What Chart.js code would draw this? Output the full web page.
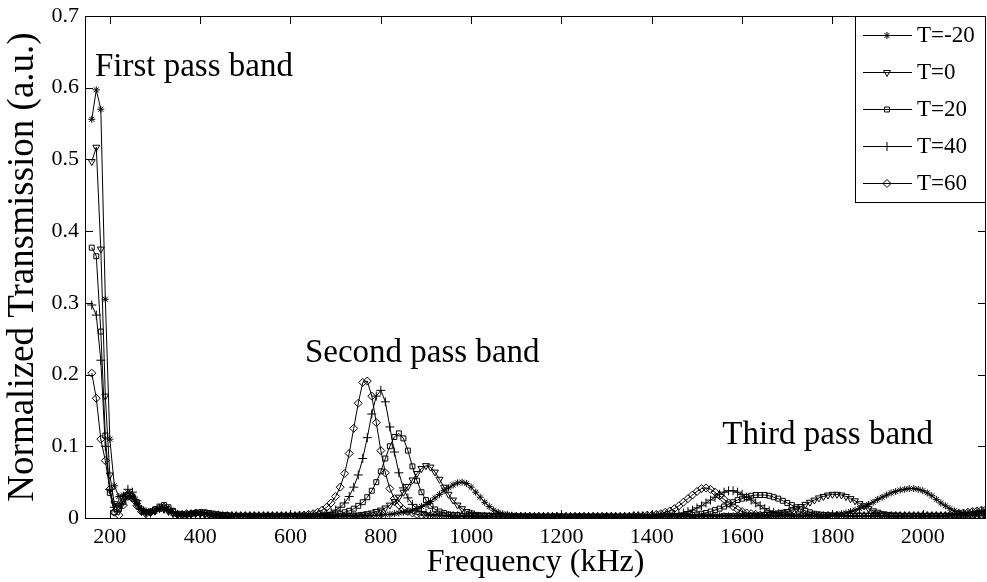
<!DOCTYPE html>
<html>
<head>
<meta charset="utf-8">
<title>Normalized Transmission</title>
<script src="https://cdn.jsdelivr.net/npm/chart.js@4.4.1/dist/chart.umd.min.js"></script>
<style>
  body { margin: 0; background: #fff; }
  canvas { display: block; }
</style>
</head>
<body>
<canvas id="myChart" width="987" height="582"></canvas>
<script>
// frequency grid in kHz, one sample every 10 kHz
var freq = [];
for (var f = 160; f <= 2140; f += 10) freq.push(f);

var seriesNames = ['T=-20', 'T=0', 'T=20', 'T=40', 'T=60'];

var tm20 = [
  .556,.597,.570,.305,.110,.045,.030,.032,.035,.030,.020,.012,.010,.008,.009,.012,.013,.010,.007,.005,
  .005,.005,.006,.007,.007,.006,.005,.004,.004,.003,.003,.003,.003,.003,.003,.002,.002,.003,.003,.003,
  .003,.003,.003,.003,.003,.003,.003,.003,.003,.003,.003,.003,.003,.003,.003,.003,.003,.003,.003,.003,
  .003,.003,.003,.004,.004,.005,.005,.006,.007,.008,.009,.011,.013,.016,.019,.023,.028,.033,.038,.042,
  .046,.049,.050,.048,.043,.036,.029,.022,.016,.011,.008,.006,.005,.004,.003,.003,.003,.003,.002,.002,
  .002,.002,.002,.003,.002,.002,.002,.002,.003,.002,.002,.002,.002,.002,.003,.002,.002,.002,.002,.002,
  .002,.002,.002,.002,.002,.002,.002,.003,.003,.003,.003,.003,.003,.003,.003,.003,.003,.003,.003,.003,
  .003,.003,.003,.003,.003,.003,.003,.003,.003,.003,.003,.003,.003,.003,.003,.003,.003,.003,.003,.003,
  .003,.003,.003,.004,.004,.005,.006,.007,.009,.011,.013,.016,.019,.022,.026,.029,.032,.035,.037,.039,
  .040,.041,.041,.040,.038,.035,.031,.026,.021,.017,.013,.010,.008,.007,.006,.006,.007,.008,.009
];
var t0 = [
  .497,.517,.375,.170,.060,.020,.015,.025,.032,.028,.018,.010,.008,.008,.010,.013,.012,.009,.006,.005,
  .004,.005,.005,.006,.006,.005,.004,.004,.003,.003,.003,.003,.002,.002,.002,.002,.002,.002,.002,.002,
  .002,.002,.002,.002,.002,.002,.002,.002,.002,.002,.002,.002,.002,.002,.003,.003,.003,.003,.004,.004,
  .005,.006,.007,.009,.011,.014,.018,.023,.029,.036,.044,.053,.062,.069,.073,.071,.064,.054,.043,.033,
  .025,.018,.013,.009,.007,.005,.004,.004,.003,.003,.003,.003,.003,.003,.002,.002,.002,.002,.002,.002,
  .002,.002,.002,.002,.002,.002,.002,.002,.002,.002,.002,.002,.002,.002,.002,.002,.002,.002,.002,.002,
  .002,.002,.002,.002,.002,.002,.002,.002,.002,.002,.002,.002,.002,.002,.002,.002,.002,.002,.002,.002,
  .003,.003,.003,.003,.003,.003,.004,.004,.004,.005,.005,.006,.007,.008,.009,.011,.013,.016,.019,.022,
  .025,.028,.030,.032,.033,.033,.032,.030,.027,.024,.020,.017,.013,.010,.008,.006,.005,.004,.004,.003,
  .003,.003,.003,.003,.003,.003,.003,.003,.003,.003,.003,.003,.003,.003,.003,.003,.003,.003,.003
];
var t20 = [
  .377,.365,.260,.115,.035,.008,.012,.022,.030,.030,.022,.012,.008,.009,.012,.016,.018,.015,.010,.006,
  .005,.005,.006,.007,.008,.008,.007,.006,.005,.004,.004,.003,.003,.003,.003,.003,.003,.003,.003,.003,
  .003,.003,.003,.003,.003,.003,.003,.003,.003,.003,.003,.003,.004,.004,.005,.006,.008,.010,.013,.017,
  .022,.029,.038,.050,.065,.083,.100,.113,.118,.111,.094,.072,.052,.036,.025,.017,.012,.009,.007,.005,
  .004,.004,.003,.003,.003,.003,.003,.003,.003,.002,.002,.002,.002,.002,.002,.002,.002,.002,.002,.002,
  .002,.002,.002,.002,.002,.002,.002,.002,.002,.002,.002,.002,.002,.002,.002,.002,.002,.002,.002,.002,
  .002,.002,.002,.002,.002,.002,.003,.003,.003,.003,.003,.003,.003,.004,.005,.006,.007,.009,.011,.013,
  .016,.019,.022,.025,.027,.029,.031,.032,.032,.032,.031,.029,.027,.024,.021,.018,.015,.012,.010,.008,
  .006,.005,.004,.004,.003,.003,.003,.003,.003,.003,.003,.003,.003,.003,.003,.003,.003,.003,.003,.003,
  .003,.003,.003,.003,.003,.003,.003,.003,.003,.003,.003,.003,.003,.003,.003,.003,.003,.003,.003
];
var t40 = [
  .297,.283,.220,.100,.040,.015,.020,.030,.040,.036,.024,.012,.007,.007,.010,.013,.014,.011,.008,.005,
  .004,.004,.005,.006,.006,.005,.005,.004,.004,.003,.003,.003,.003,.003,.003,.003,.003,.003,.003,.003,
  .003,.003,.003,.003,.003,.003,.003,.003,.003,.004,.004,.005,.006,.008,.011,.015,.021,.030,.043,.060,
  .083,.112,.145,.170,.178,.162,.127,.092,.063,.042,.028,.019,.013,.009,.007,.005,.004,.004,.003,.003,
  .003,.003,.003,.003,.002,.002,.002,.002,.002,.002,.002,.002,.002,.002,.002,.002,.002,.002,.002,.002,
  .002,.002,.002,.002,.002,.002,.002,.002,.002,.002,.002,.002,.002,.002,.002,.002,.002,.002,.002,.002,
  .003,.003,.003,.003,.003,.003,.003,.004,.004,.005,.006,.007,.009,.011,.014,.017,.021,.025,.029,.033,
  .036,.038,.038,.036,.033,.029,.025,.021,.017,.013,.010,.008,.006,.005,.004,.004,.003,.003,.003,.003,
  .003,.003,.003,.003,.003,.003,.003,.003,.003,.003,.003,.003,.003,.003,.003,.003,.003,.003,.003,.003,
  .003,.003,.003,.003,.003,.003,.003,.003,.003,.003,.003,.004,.004,.005,.006,.007,.008,.009,.010
];
var t60 = [
  .202,.167,.110,.080,.040,.008,.004,.018,.030,.027,.017,.009,.006,.008,.011,.014,.015,.012,.008,.005,
  .005,.006,.006,.007,.007,.006,.005,.004,.004,.003,.003,.003,.003,.003,.003,.003,.003,.003,.003,.003,
  .003,.003,.003,.003,.003,.003,.004,.004,.005,.006,.008,.011,.015,.021,.030,.043,.062,.090,.125,.160,
  .189,.191,.170,.133,.094,.063,.041,.027,.018,.012,.009,.007,.005,.004,.004,.003,.003,.003,.003,.003,
  .003,.003,.002,.002,.002,.002,.002,.002,.002,.002,.002,.002,.002,.002,.002,.002,.002,.002,.002,.002,
  .002,.002,.002,.002,.002,.002,.002,.002,.002,.002,.002,.002,.002,.002,.002,.002,.002,.002,.002,.002,
  .003,.003,.003,.004,.004,.005,.006,.008,.010,.013,.017,.022,.027,.032,.037,.041,.042,.040,.036,.031,
  .026,.021,.016,.012,.009,.007,.006,.005,.004,.004,.003,.003,.003,.003,.003,.003,.003,.003,.003,.003,
  .003,.003,.003,.003,.003,.003,.003,.003,.003,.003,.003,.003,.003,.003,.003,.003,.003,.003,.003,.003,
  .003,.003,.003,.003,.003,.003,.003,.003,.003,.003,.004,.005,.006,.007,.008,.009,.010,.011,.012
];

var xTicks = [200, 400, 600, 800, 1000, 1200, 1400, 1600, 1800, 2000];
var yTicks = [0, 0.1, 0.2, 0.3, 0.4, 0.5, 0.6, 0.7];
var bandLabels = ['First pass band', 'Second pass band', 'Third pass band'];

var serif = "'Liberation Serif', 'Times New Roman', serif";

// marker for each temperature
var markers = [
  { pointStyle: 'star', radius: 3.5, rotation: 0 },
  { pointStyle: 'triangle', radius: 4, rotation: 180 },
  { pointStyle: 'rect', radius: 3.5, rotation: 0 },
  { pointStyle: 'cross', radius: 4.5, rotation: 0 },
  { pointStyle: 'rectRot', radius: 4, rotation: 0 }
];

var allSeries = [tm20, t0, t20, t40, t60];

var datasets = allSeries.map(function (vals, k) {
  return {
    label: seriesNames[k],
    data: freq.map(function (f, i) { return { x: f, y: vals[i] }; }),
    borderColor: '#000',
    borderWidth: 1,
    pointStyle: markers[k].pointStyle,
    pointRadius: markers[k].radius,
    pointRotation: markers[k].rotation,
    pointBorderColor: '#000',
    pointBackgroundColor: 'rgba(0,0,0,0)',
    pointBorderWidth: 1,
    tension: 0
  };
});

// box around the plot with inward ticks on all four sides
var frameTicks = {
  id: 'frameTicks',
  afterDraw: function (chart) {
    var ctx = chart.ctx, a = chart.chartArea;
    var x = chart.scales.x, y = chart.scales.y;
    var len = 8;
    ctx.save();
    ctx.strokeStyle = '#000';
    ctx.lineWidth = 1;
    ctx.strokeRect(a.left + 0.5, a.top + 0.5, a.right - a.left - 1, a.bottom - a.top);
    ctx.beginPath();
    xTicks.forEach(function (v) {
      var px = Math.round(x.getPixelForValue(v)) + 0.5;
      ctx.moveTo(px, a.bottom); ctx.lineTo(px, a.bottom - len);
      ctx.moveTo(px, a.top); ctx.lineTo(px, a.top + len);
    });
    yTicks.forEach(function (v) {
      var py = Math.round(y.getPixelForValue(v)) + 0.5;
      ctx.moveTo(a.left, py); ctx.lineTo(a.left + len, py);
      ctx.moveTo(a.right, py); ctx.lineTo(a.right - len, py);
    });
    ctx.stroke();
    ctx.restore();
  }
};

// pass band captions, anchored in data coordinates
var bandText = {
  id: 'bandText',
  afterDraw: function (chart, args, opts) {
    var ctx = chart.ctx, x = chart.scales.x, y = chart.scales.y;
    ctx.save();
    ctx.font = opts.size + 'px ' + serif;
    ctx.fillStyle = '#000';
    ctx.textBaseline = 'alphabetic';
    opts.anchors.forEach(function (p, i) {
      ctx.fillText(bandLabels[i], x.getPixelForValue(p[0]), y.getPixelForValue(p[1]));
    });
    ctx.restore();
  }
};

// legend box in the upper right corner: line + marker + text
var boxLegend = {
  id: 'boxLegend',
  afterDraw: function (chart) {
    var ctx = chart.ctx, a = chart.chartArea;
    var left = a.right - 131, top = a.top, w = 131, h = 186;
    ctx.save();
    ctx.fillStyle = '#fff';
    ctx.fillRect(left, top, w, h);
    ctx.strokeStyle = '#000';
    ctx.lineWidth = 1;
    ctx.strokeRect(left + 0.5, top + 0.5, w - 1, h);
    ctx.font = '23px ' + serif;
    ctx.textBaseline = 'middle';
    seriesNames.forEach(function (name, k) {
      var cy = top + 19 + k * 37;
      ctx.strokeStyle = '#000';
      ctx.beginPath();
      ctx.moveTo(left + 8, cy + 0.5); ctx.lineTo(left + 57, cy + 0.5);
      ctx.stroke();
      ctx.fillStyle = 'rgba(0,0,0,0)';
      Chart.helpers.drawPoint(ctx, {
        pointStyle: markers[k].pointStyle,
        radius: markers[k].radius,
        rotation: markers[k].rotation,
        borderWidth: 1
      }, left + 32, cy + 0.5);
      ctx.fillStyle = '#000';
      ctx.fillText(name, left + 62, cy + 1);
    });
    ctx.restore();
  }
};

function noPad(s) {
  s.paddingLeft = 0; s.paddingRight = 0; s.paddingTop = 0; s.paddingBottom = 0;
}

const ctx = document.getElementById('myChart');

const chart = new Chart(ctx, {
  type: 'line',
  data: { datasets: datasets },
  plugins: [frameTicks, bandText, boxLegend],
  options: {
    responsive: false,
    animation: false,
    layout: { autoPadding: false, padding: { top: 16, right: 1, left: 0, bottom: 0 } },
    plugins: {
      legend: { display: false },
      tooltip: { enabled: false },
      bandText: {
        size: 33,
        anchors: [[167, 0.617], [632, 0.218], [1556, 0.103]]
      }
    },
    scales: {
      x: {
        type: 'linear',
        min: 145,
        max: 2140,
        grid: { display: false, drawTicks: false },
        border: { display: false },
        ticks: {
          color: '#000',
          font: { family: serif, size: 22 },
          padding: 6,
          maxRotation: 0,
          autoSkip: false,
          callback: function (v) { return String(v); }
        },
        title: {
          display: true,
          text: 'Frequency (kHz)',
          color: '#000',
          font: { family: serif, size: 32 },
          padding: { top: 0, bottom: 0 }
        },
        afterBuildTicks: function (s) { s.ticks = xTicks.map(function (v) { return { value: v }; }); },
        afterFit: function (s) { s.height = 64; noPad(s); }
      },
      y: {
        min: 0,
        max: 0.7,
        grid: { display: false, drawTicks: false },
        border: { display: false },
        ticks: {
          color: '#000',
          font: { family: serif, size: 22 },
          padding: 6,
          callback: function (v) { return v === 0 ? '0' : v.toFixed(1); }
        },
        title: {
          display: true,
          text: 'Normalized Transmission (a.u.)',
          color: '#000',
          font: { family: serif, size: 37 },
          padding: { top: 1, bottom: 0 }
        },
        afterBuildTicks: function (s) { s.ticks = yTicks.map(function (v) { return { value: v }; }); },
        afterFit: function (s) { s.width = 85; noPad(s); }
      }
    }
  }
});
</script>
</body>
</html>
